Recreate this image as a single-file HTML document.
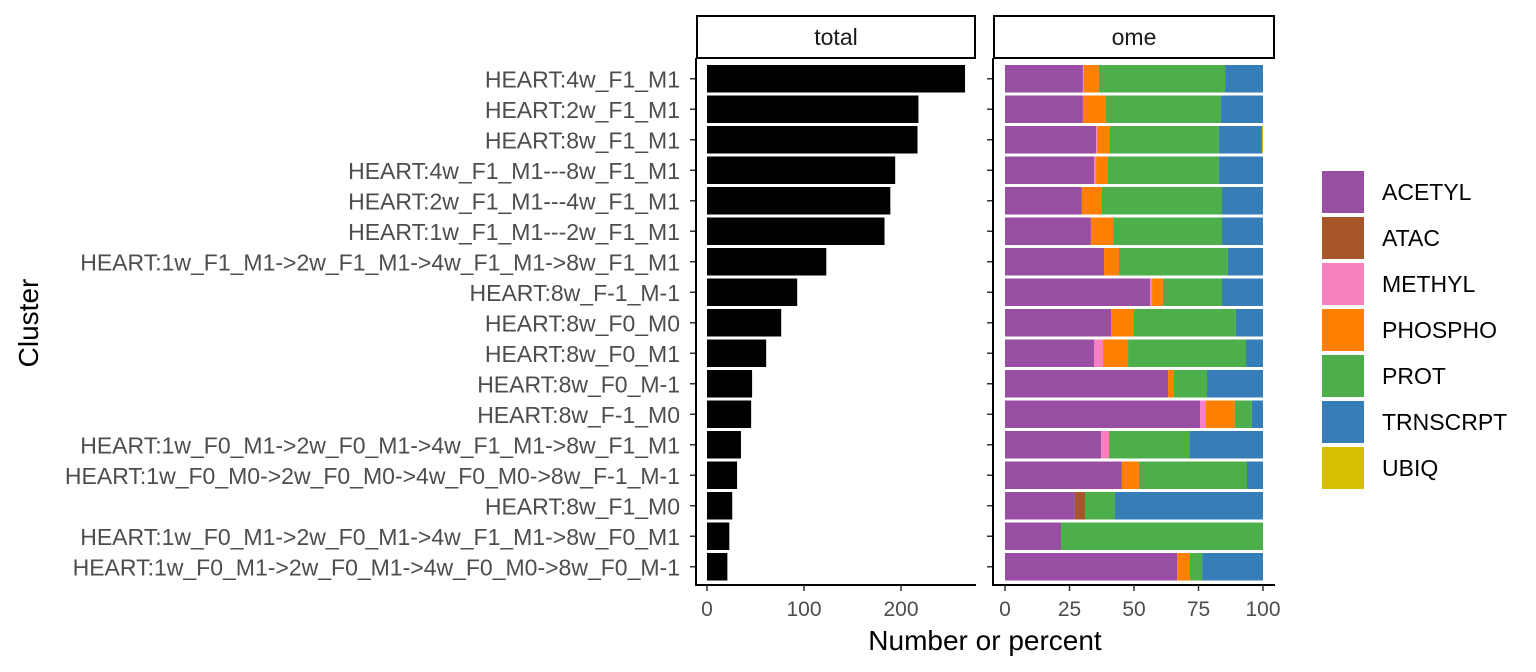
<!DOCTYPE html>
<html><head><meta charset="utf-8"><style>
html,body{margin:0;padding:0;background:#fff;}
svg{display:block;font-family:"Liberation Sans",Arial,sans-serif;}
</style></head><body>
<svg id="chart" width="1536" height="672"></svg>
<script>
const clusters=["HEART:4w_F1_M1","HEART:2w_F1_M1","HEART:8w_F1_M1","HEART:4w_F1_M1---8w_F1_M1","HEART:2w_F1_M1---4w_F1_M1","HEART:1w_F1_M1---2w_F1_M1","HEART:1w_F1_M1->2w_F1_M1->4w_F1_M1->8w_F1_M1","HEART:8w_F-1_M-1","HEART:8w_F0_M0","HEART:8w_F0_M1","HEART:8w_F0_M-1","HEART:8w_F-1_M0","HEART:1w_F0_M1->2w_F0_M1->4w_F1_M1->8w_F1_M1","HEART:1w_F0_M0->2w_F0_M0->4w_F0_M0->8w_F-1_M-1","HEART:8w_F1_M0","HEART:1w_F0_M1->2w_F0_M1->4w_F1_M1->8w_F0_M1","HEART:1w_F0_M1->2w_F0_M1->4w_F0_M0->8w_F0_M-1"];
const totals=[266,218,217,194,189,183,123,93,76.5,61,46.5,45.5,35,31,26,23,21];
const omes=["ACETYL","ATAC","METHYL","PHOSPHO","PROT","TRNSCRPT","UBIQ"];
const colors=["#984EA3","#A65628","#F781BF","#FF7F00","#4DAF4A","#377EB8","#D4C000"];
const acetyl=[30.2,30.2,35.3,34.5,29.8,33.3,38.4,56.2,41.1,34.5,63.2,75.6,37.2,45.3,27.1,21.7,66.7];
const atac=[0,0,0,0,0,0,0,0,0,0,0,0,0,0,3.9,0,0];
const methyl=[0.4,0,0.4,0.8,0,0,0,0.8,0,3.5,0,2.3,3.1,0,0,0,0];
const phospho=[5.8,8.9,5.0,4.6,7.8,8.6,5.8,4.2,8.9,9.7,2.3,11.2,0,6.6,0,0,5.0];
const prot=[48.9,44.6,42.2,43.0,46.5,42.2,42.2,22.9,39.5,45.7,12.8,6.6,31.4,41.9,11.6,78.3,4.7];
const trnscrpt=[14.7,16.3,16.7,17.1,15.9,15.9,13.6,15.9,10.5,6.6,21.7,4.3,28.3,6.2,57.4,0,23.6];
const ubiq=[0,0,0.4,0,0,0,0,0,0,0,0,0,0,0,0,0,0];
const totalTicks=[0,100,200];
const pctTicks=[0,25,50,75,100];

const NS="http://www.w3.org/2000/svg";
const svg=document.getElementById('chart');
function mk(tag,attrs,parent){const e=document.createElementNS(NS,tag);for(const k in attrs)e.setAttribute(k,attrs[k]);(parent||svg).appendChild(e);return e;}
const rowTop=65, step=30.5, bh=27.5;
const yC=i=>rowTop+i*step+bh/2;
const xT=v=>707+v*0.97;
const xP=v=>1005+v*2.58;
const plotTop=58,plotBottom=585;

[["total",696,976],["ome",993,1275]].forEach(([t,a,b])=>{
 const r=mk('rect',{x:a+1,y:16,width:b-a-2,height:42,fill:'#fff',stroke:'#000','stroke-width':2});
 
 
 const tx=mk('text',{x:(a+b)/2,y:45,'text-anchor':'middle','font-size':23,fill:'#1a1a1a'});tx.textContent=t;
 
 
});

clusters.forEach((c,i)=>{
 const r=mk('rect',{x:xT(0),y:yC(i)-bh/2,width:xT(totals[i])-xT(0),height:bh,fill:'#000'});
 
 
 const t=mk('text',{x:680,y:yC(i)+8.5,'text-anchor':'end','font-size':23,fill:'#4d4d4d'});t.textContent=c;
 
 
 mk('line',{x1:690,x2:696,y1:yC(i),y2:yC(i),stroke:'#333','stroke-width':1.5});
 mk('line',{x1:987,x2:993,y1:yC(i),y2:yC(i),stroke:'#333','stroke-width':1.5});
});
const series=[acetyl,atac,methyl,phospho,prot,trnscrpt,ubiq];
clusters.forEach((c,i)=>{
 let cum=0;
 series.forEach((s,k)=>{
  if(s[i]<=0)return;
  const r=mk('rect',{x:xP(cum),y:yC(i)-bh/2,width:xP(cum+s[i])-xP(cum),height:bh,fill:colors[k]});
  
  
  cum+=s[i];
 });
});
[[696,976],[993,1275]].forEach(([a,b])=>{
 mk('line',{x1:a,x2:a,y1:plotTop,y2:plotBottom+1,stroke:'#000','stroke-width':2});
 mk('line',{x1:a-1,x2:b,y1:plotBottom,y2:plotBottom,stroke:'#000','stroke-width':2});
});
totalTicks.forEach(v=>{
 mk('line',{x1:xT(v),x2:xT(v),y1:plotBottom,y2:plotBottom+6,stroke:'#333','stroke-width':1.5});
 const t=mk('text',{x:xT(v),y:616,'text-anchor':'middle','font-size':21,fill:'#4d4d4d'});t.textContent=v;
 
 
});
pctTicks.forEach(v=>{
 mk('line',{x1:xP(v),x2:xP(v),y1:plotBottom,y2:plotBottom+6,stroke:'#333','stroke-width':1.5});
 const t=mk('text',{x:xP(v),y:616,'text-anchor':'middle','font-size':21,fill:'#4d4d4d'});t.textContent=v;
 
 
});
const xt=mk('text',{x:985,y:650,'text-anchor':'middle','font-size':28,fill:'#000'});xt.textContent='Number or percent';


const yt=mk('text',{x:0,y:0,'text-anchor':'middle','font-size':28,fill:'#000',transform:'translate(38,323) rotate(-90)'});yt.textContent='Cluster';


omes.forEach((o,k)=>{
 const g=mk('g',{});
 
 
 mk('rect',{x:1322,y:171+k*46,width:42,height:42,fill:colors[k]},g);
 const t=mk('text',{x:1382,y:200+k*46,'font-size':23,fill:'#000'},g);t.textContent=o;
});
</script>
</body></html>
